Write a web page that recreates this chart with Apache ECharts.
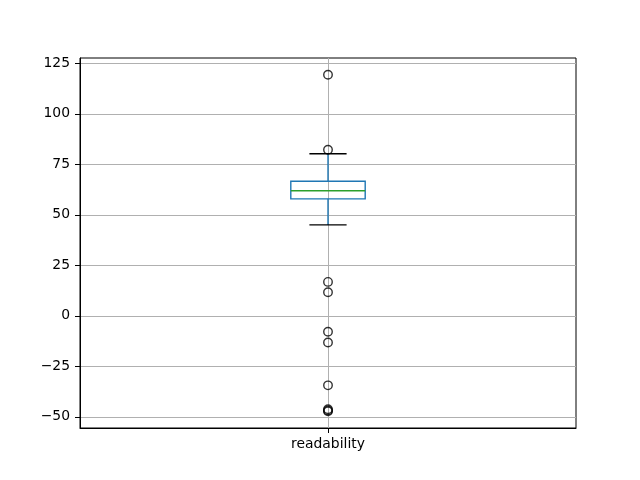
<!DOCTYPE html>
<html>
<head>
<meta charset="utf-8">
<script src="https://cdn.jsdelivr.net/npm/echarts@6/dist/echarts.min.js"></script>
<style>html,body{margin:0;padding:0;background:#fff}#c{width:640px;height:480px}</style>
</head>
<body>
<div id="c"></div>
<script>
var categories = ['readability'];
var boxStats = [[45.0, 57.9, 61.9, 66.6, 80.2]]; // low whisker, q1, median, q3, high whisker
var outliers = [119.3, 82.2, 16.8, 11.7, -7.9, -13.2, -34.4, -46.2, -46.8, -47.2];
var yTicks = [-50, -25, 0, 25, 50, 75, 100, 125];

var font = 'DejaVu Sans';
var chart = echarts.init(document.getElementById('c'), null, {renderer: 'canvas'});

var boxData = boxStats.map(function (s, i) { return [i + 1].concat(s); });
var outlierData = [];
categories.forEach(function (c, i) {
  outliers.forEach(function (v) { outlierData.push([i + 1, v]); });
});

chart.setOption({
  animation: false,
  grid: {left: 80, right: 64, top: 58, bottom: 52, show: true, borderColor: '#000', borderWidth: 1, backgroundColor: 'transparent'},
  xAxis: {
    type: 'value', min: 0.5, max: categories.length + 0.5,
    axisLine: {show: true, onZero: false, lineStyle: {color: '#000', width: 1}},
    axisTick: {show: true, length: 5, inside: false, lineStyle: {color: '#000'}, customValues: categories.map(function (c, i) { return i + 1; })},
    axisLabel: {show: true, color: '#000', fontFamily: font, fontSize: 13.9, margin: 9,
      customValues: categories.map(function (c, i) { return i + 1; }),
      formatter: function (v) { return categories[Math.round(v) - 1] || ''; }},
    splitLine: {show: true, lineStyle: {color: '#b0b0b0', width: 1}}
  },
  yAxis: {
    type: 'value', min: -55.5, max: 127.6,
    axisLine: {show: true, lineStyle: {color: '#000', width: 1}},
    axisTick: {show: true, length: 5, lineStyle: {color: '#000'}, customValues: yTicks},
    axisLabel: {show: true, color: '#000', fontFamily: font, fontSize: 13.9, margin: 10, customValues: yTicks,
      formatter: function (v) { return v < 0 ? '\u2212' + Math.abs(v) : String(v); }},
    splitLine: {show: true, lineStyle: {color: '#b0b0b0', width: 1}}
  },
  series: [
    {
      type: 'custom',
      data: boxData,
      encode: {x: 0, y: [1, 2, 3, 4, 5]},
      z: 3,
      renderItem: function (params, api) {
        var x = api.value(0);
        var low = api.coord([x, api.value(1)]);
        var q1 = api.coord([x, api.value(2)]);
        var med = api.coord([x, api.value(3)]);
        var q3 = api.coord([x, api.value(4)]);
        var high = api.coord([x, api.value(5)]);
        var halfBox = api.size([0.15, 0])[0] / 2;
        var halfCap = halfBox / 2;
        var cx = low[0];
        return {
          type: 'group',
          children: [
            {type: 'line', shape: {x1: cx, y1: q1[1], x2: cx, y2: low[1]}, style: {stroke: '#1f77b4', lineWidth: 1.4}},
            {type: 'line', shape: {x1: cx, y1: q3[1], x2: cx, y2: high[1]}, style: {stroke: '#1f77b4', lineWidth: 1.4}},
            {type: 'line', shape: {x1: cx - halfCap, y1: low[1], x2: cx + halfCap, y2: low[1]}, style: {stroke: '#000', lineWidth: 1.4}},
            {type: 'line', shape: {x1: cx - halfCap, y1: high[1], x2: cx + halfCap, y2: high[1]}, style: {stroke: '#000', lineWidth: 1.4}},
            {type: 'rect', shape: {x: cx - halfBox, y: q3[1], width: halfBox * 2, height: q1[1] - q3[1]}, style: {fill: 'none', stroke: '#1f77b4', lineWidth: 1.4}},
            {type: 'line', shape: {x1: cx - halfBox, y1: med[1], x2: cx + halfBox, y2: med[1]}, style: {stroke: '#2ca02c', lineWidth: 1.4}}
          ]
        };
      }
    },
    {
      type: 'scatter',
      data: outlierData,
      symbol: 'circle',
      symbolSize: 8.5,
      z: 4,
      itemStyle: {color: 'rgba(0,0,0,0)', borderColor: '#000', borderWidth: 1.4}
    }
  ]
});
</script>
</body>
</html>
